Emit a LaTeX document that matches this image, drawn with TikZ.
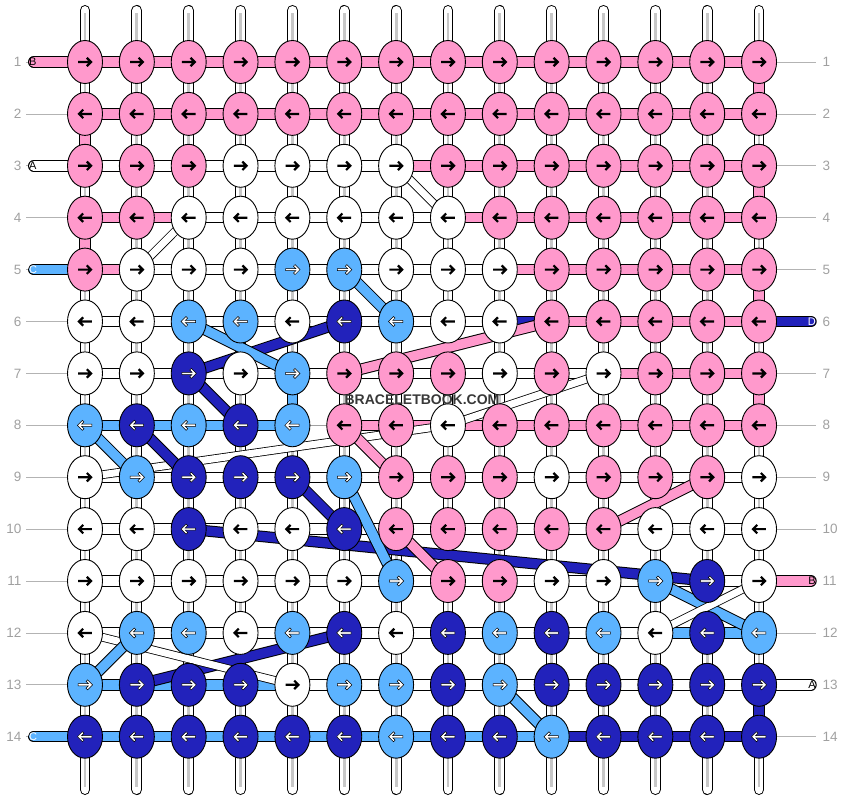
\documentclass[tikz,border=0pt]{standalone}
\usepackage{fontspec}
\setmainfont{Liberation Sans}
\usetikzlibrary{shapes.geometric}

\definecolor{colP}{HTML}{FF99CC}
\definecolor{colW}{HTML}{FFFFFF}
\definecolor{colL}{HTML}{5CB3FF}
\definecolor{colD}{HTML}{2222BB}
\definecolor{numgray}{HTML}{A0A0A0}

\tikzset{
  knot/.style={ellipse, draw=black, line width=0.9pt, minimum width=35pt,
    minimum height=43pt, inner sep=0pt},
  seg/.style={draw=black, line width=1pt, double distance=9.4pt},
  segP/.style={seg, double=colP},
  segW/.style={seg, double=colW},
  segL/.style={seg, double=colL},
  segD/.style={seg, double=colD},
  segN/.style={draw=numgray, line width=0.6pt},
  carryP/.style={segP},
  carryL/.style={segL},
  carryD/.style={segD},
  carryW/.style={seg, line width=0.8pt, double=white, double distance=7pt},
  strand/.style={draw=black, line width=1pt, double=white,
    double distance=8.8pt, line cap=round},
  stripe/.style={draw=black!22, line width=2.8pt, shorten <=3pt, shorten >=3pt},
  guide/.style={draw=numgray!80, line width=0.8pt},
  rownum/.style={text=numgray, font=\fontsize{13.5}{13.5}\selectfont, inner sep=0pt},
  endlabel/.style={font=\fontsize{11}{11}\selectfont, inner sep=0pt},
  arrP/.style={fill=black},
  arrW/.style={fill=black},
  arrL/.style={fill=white, draw=black, line width=0.5pt},
  arrD/.style={fill=white, draw=black, line width=0.5pt},
  pics/knotarrow/.style={code={
    \path[pic actions] (-6.8,-1.1) -- (3.39,-1.1) -- (1.04,-3.44) -- (2.6,-5)
      -- (7.6,0) -- (2.6,5) -- (1.04,3.44) -- (3.39,1.1) -- (-6.8,1.1) -- cycle;
  }},
}

\begin{document}
\begin{tikzpicture}[x=1pt, y=-1pt]
\useasboundingbox (0,0) rectangle (844,800);

% knot grid
\foreach \r in {1,...,14}
  \foreach \c in {1,...,14}
    \coordinate (p\r-\c) at ({85+51.85*(\c-1)},{62+51.9*(\r-1)});

% hanging strands
\foreach \c in {1,...,14} {
  \coordinate (top\c) at ({85+51.85*(\c-1)},10.4);
  \coordinate (bot\c) at ({85+51.85*(\c-1)},789.6);
  \draw[strand] (top\c) -- (bot\c);
  \draw[stripe] (top\c) -- (bot\c);
}

% coloured pieces of the strands
\foreach \r/\c/\s in {1/14/P, 2/1/P, 3/14/P, 4/1/P, 5/14/P, 7/14/P, 7/5/L, 13/14/D} {
  \pgfmathtruncatemacro\n{\r+1}
  \draw[seg\s] (p\r-\c) -- (p\n-\c);
}

% row numbers
\foreach \r in {1,...,14} {
  \coordinate (gl\r) at (26,{62+51.9*(\r-1)});
  \coordinate (gr\r) at (816,{62+51.9*(\r-1)});
  \draw[guide] (gl\r) -- (p\r-1);
  \draw[guide] (p\r-14) -- (gr\r);
  \node[rownum, anchor=east] (nl\r) at (21.5,{62+51.9*(\r-1)}) {\r};
  \node[rownum, anchor=west] (nr\r) at (822.5,{62+51.9*(\r-1)}) {\r};
}

% thread ends
\foreach \r/\s/\t/\l in {1/P/black/B, 3/W/black/A, 5/L/white/C, 14/L/white/C} {
  \coordinate (el\r) at (33.7,{62+51.9*(\r-1)});
  \draw[seg\s, line cap=round] (el\r) -- (p\r-1);
  \node[endlabel, text=\t, anchor=west] (tl\r) at (29,{62+51.9*(\r-1)}) {\l};
}
\foreach \r/\s/\t/\l in {6/D/white/D, 11/P/black/B, 13/W/black/A} {
  \coordinate (er\r) at (811,{62+51.9*(\r-1)});
  \draw[seg\s, line cap=round] (p\r-14) -- (er\r);
  \node[endlabel, text=\t, anchor=east] (tr\r) at (816,{62+51.9*(\r-1)}) {\l};
}

% knotting threads along the rows
\foreach \row [count=\r] in {
  {P,P,P,P,P,P,P,P,P,P,P,P,P},
  {P,P,P,P,P,P,P,P,P,P,P,P,P},
  {W,W,W,W,W,W,P,P,P,P,P,P,P},
  {P,P,W,W,W,W,W,P,P,P,P,P,P},
  {P,W,W,W,W,W,W,W,P,P,P,P,P},
  {W,W,W,W,W,W,W,W,D,P,P,P,P},
  {W,W,W,W,W,W,W,W,W,W,P,P,P},
  {L,L,L,L,N,P,P,P,P,P,P,P,P},
  {W,W,W,W,W,W,W,W,W,W,W,W,W},
  {W,W,W,W,W,W,W,W,W,W,W,W,W},
  {W,W,W,W,W,W,W,W,W,W,W,W,W},
  {W,W,W,W,W,W,W,W,W,W,W,L,L},
  {L,L,L,L,W,W,W,W,W,W,W,W,W},
  {L,L,L,L,L,L,L,L,L,D,D,D,D}} {
  \foreach \s [count=\c] in \row {
    \pgfmathtruncatemacro\n{\c+1}
    \draw[seg\s] (p\r-\c) -- (p\r-\n);
  }
}

% threads carried to another row
\foreach \a/\b/\s in {3-7/4-8/W, 4-3/5-2/W, 5-6/6-7/L, 6-6/7-3/D, 6-3/7-5/L,
    6-10/7-6/P, 7-3/8-4/D, 7-11/8-8/W, 8-8/9-1/W, 8-1/9-2/L, 8-2/9-3/D,
    8-6/9-7/P, 9-13/10-11/P, 9-5/10-6/D, 10-3/11-13/D, 9-6/11-7/L,
    10-7/11-8/P, 11-12/12-14/L, 11-14/12-12/W, 12-6/13-2/D, 12-1/13-5/W,
    13-1/12-2/L, 13-9/14-10/L}
  \draw[carry\s] (p\a) -- (p\b);

% knots
\foreach \row [count=\r] in {
  {P,P,P,P,P,P,P,P,P,P,P,P,P,P},
  {P,P,P,P,P,P,P,P,P,P,P,P,P,P},
  {P,P,P,W,W,W,W,P,P,P,P,P,P,P},
  {P,P,W,W,W,W,W,W,P,P,P,P,P,P},
  {P,W,W,W,L,L,W,W,W,P,P,P,P,P},
  {W,W,L,L,W,D,L,W,W,P,P,P,P,P},
  {W,W,D,W,L,P,P,P,W,P,W,P,P,P},
  {L,D,L,D,L,P,P,W,P,P,P,P,P,P},
  {W,L,D,D,D,L,P,P,P,W,P,P,P,W},
  {W,W,D,W,W,D,P,P,P,P,P,W,W,W},
  {W,W,W,W,W,W,L,P,P,W,W,L,D,W},
  {W,L,L,W,L,D,W,D,L,D,L,W,D,L},
  {L,D,D,D,W,L,L,D,L,D,D,D,D,D},
  {D,D,D,D,D,D,L,D,D,L,D,D,D,D}} {
  \foreach \k [count=\c] in \row {
    \node[knot, fill=col\k] (k\r-\c) at (p\r-\c) {};
    \ifodd\r\relax
      \pic[arr\k] at (k\r-\c) {knotarrow};
    \else
      \pic[arr\k, rotate=180] at (k\r-\c) {knotarrow};
    \fi
  }
}

\node[font=\bfseries\fontsize{14}{14}\selectfont, text=black!78] (watermark)
  at (422,399.5) {BRACELETBOOK.COM};
\end{tikzpicture}
\end{document}
